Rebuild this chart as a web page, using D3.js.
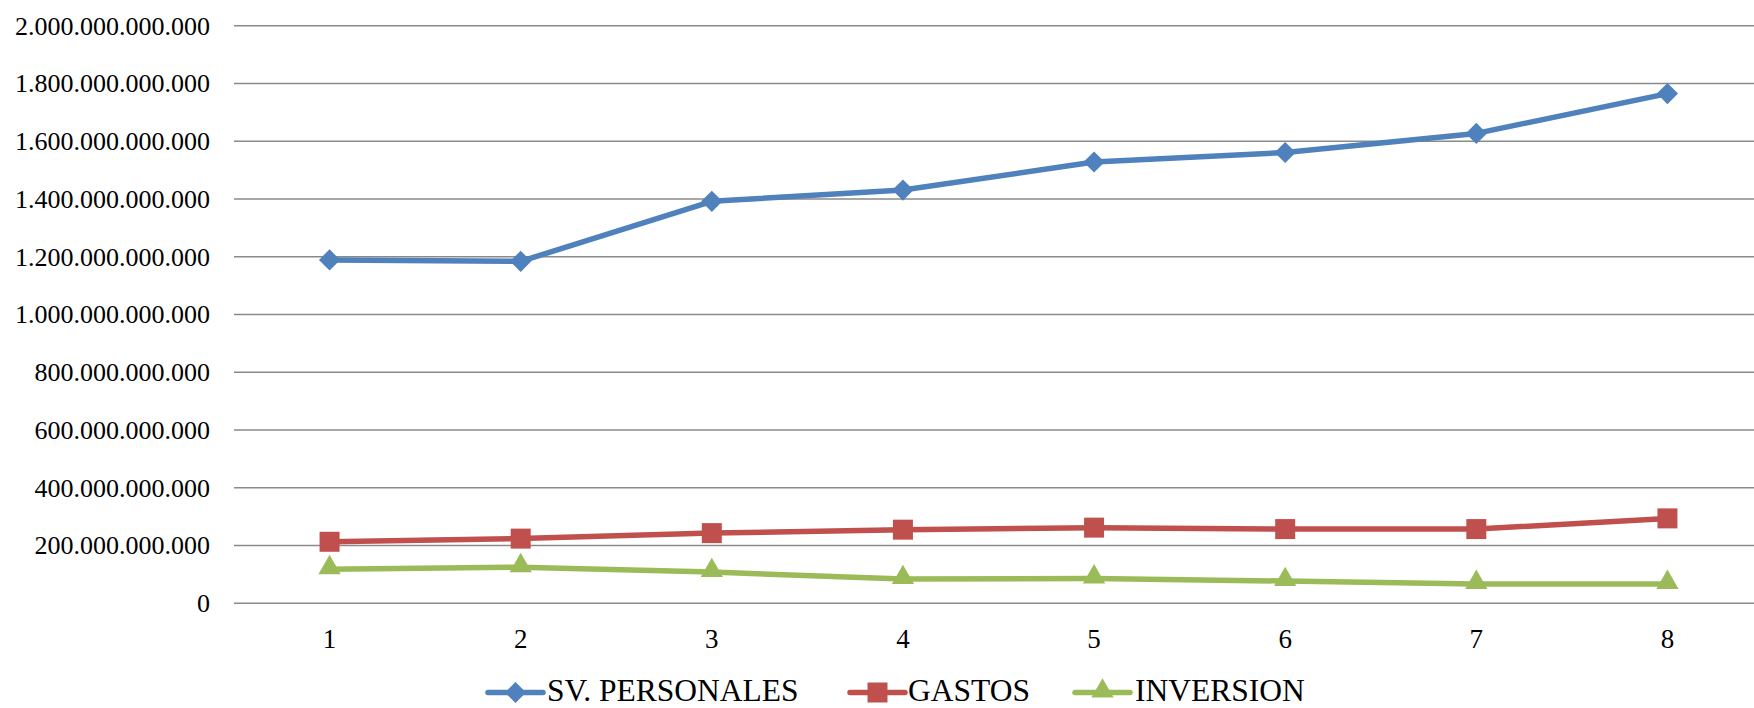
<!DOCTYPE html>
<html>
<head>
<meta charset="utf-8">
<script src="https://cdn.jsdelivr.net/npm/d3@7"></script>
<style>
  html, body { margin: 0; padding: 0; background: #fff; }
  svg { display: block; }
  svg text { font-family: "Liberation Serif", "Tinos", "Times New Roman", Times, serif !important; fill: #000; }
</style>
</head>
<body>
<svg id="chart" width="1754" height="708"></svg>
<script>
const categories = ["1", "2", "3", "4", "5", "6", "7", "8"];
const svPersonales = [1189e9, 1184e9, 1392e9, 1431e9, 1528e9, 1561e9, 1627e9, 1765e9];
const gastos = [213e9, 224e9, 243e9, 255e9, 262e9, 257e9, 257e9, 294e9];
const inversion = [118e9, 125e9, 108e9, 84e9, 86e9, 77e9, 67e9, 67e9];
const yTicks = [0, 200e9, 400e9, 600e9, 800e9, 1000e9, 1200e9, 1400e9, 1600e9, 1800e9, 2000e9];
const seriesNames = ["SV. PERSONALES", "GASTOS", "INVERSION"];

const series = [
  { name: seriesNames[0], values: svPersonales, color: "#4F81BD", marker: d3.symbolSquare, size: 225, rot: 45, dy: 0 },
  { name: seriesNames[1], values: gastos, color: "#C0504D", marker: d3.symbolSquare, size: 400, rot: 0, dy: 0 },
  { name: seriesNames[2], values: inversion, color: "#9BBB59", marker: d3.symbolTriangle, size: 215, rot: 0, dy: -1.5 }
];

const svg = d3.select("#chart");
const plot = { left: 234, right: 1763, top: 25.7, bottom: 603.3 };

const x = d3.scaleBand().domain(categories).range([plot.left, plot.right]);
const y = d3.scaleLinear().domain([0, 2000e9]).range([plot.bottom, plot.top]);

const fmt = v => d3.format(",.0f")(v).replace(/,/g, ".");

// gridlines
svg.append("g").selectAll("line").data(yTicks).join("line")
  .attr("x1", plot.left).attr("x2", plot.right)
  .attr("y1", d => y(d)).attr("y2", d => y(d))
  .attr("stroke", "#8a8a8a").attr("stroke-width", 1.4);

// y axis labels
const yAxis = d3.axisLeft(y).tickValues(yTicks).tickFormat(fmt).tickSize(0).tickPadding(24);
const gy = svg.append("g").attr("transform", `translate(${plot.left},0)`).call(yAxis);
gy.attr("font-family", null);
gy.select(".domain").remove();
gy.selectAll("text").style("font-size", "26px").attr("fill", "#000");

// x axis labels
const xAxis = d3.axisBottom(x).tickSize(0).tickPadding(26);
const gx = svg.append("g").attr("transform", `translate(0,${plot.bottom})`).call(xAxis);
gx.attr("font-family", null);
gx.select(".domain").remove();
gx.selectAll("text").style("font-size", "27px").attr("fill", "#000");

const cx = c => x(c) + x.bandwidth() / 2;

// lines & markers
series.forEach(s => {
  const line = d3.line().x((d, i) => cx(categories[i])).y(d => y(d));
  svg.append("path").datum(s.values)
    .attr("d", line).attr("fill", "none")
    .attr("stroke", s.color).attr("stroke-width", 5.5).attr("stroke-linejoin", "round");
  const sym = d3.symbol().type(s.marker).size(s.size);
  svg.append("g").selectAll("path").data(s.values).join("path")
    .attr("d", sym)
    .attr("transform", (d, i) => `translate(${cx(categories[i])},${y(d) + s.dy}) rotate(${s.rot})`)
    .attr("fill", s.color);
});

// legend
const legendItems = [
  { s: series[0], lx: 488, tx: 547 },
  { s: series[1], lx: 850, tx: 908 },
  { s: series[2], lx: 1075, tx: 1135 }
];
const ly = 692.5;
legendItems.forEach(it => {
  const g = svg.append("g");
  g.append("line").attr("x1", it.lx).attr("x2", it.lx + 55).attr("y1", ly).attr("y2", ly)
    .attr("stroke", it.s.color).attr("stroke-width", 5.5).attr("stroke-linecap", "round");
  g.append("path").attr("d", d3.symbol().type(it.s.marker).size(it.s.size)())
    .attr("transform", `translate(${it.lx + 27.5},${ly + it.s.dy}) rotate(${it.s.rot})`)
    .attr("fill", it.s.color);
  g.append("text").attr("x", it.tx).attr("y", 700.5).style("font-size", "31.5px").text(it.s.name);
});
</script>
</body>
</html>
